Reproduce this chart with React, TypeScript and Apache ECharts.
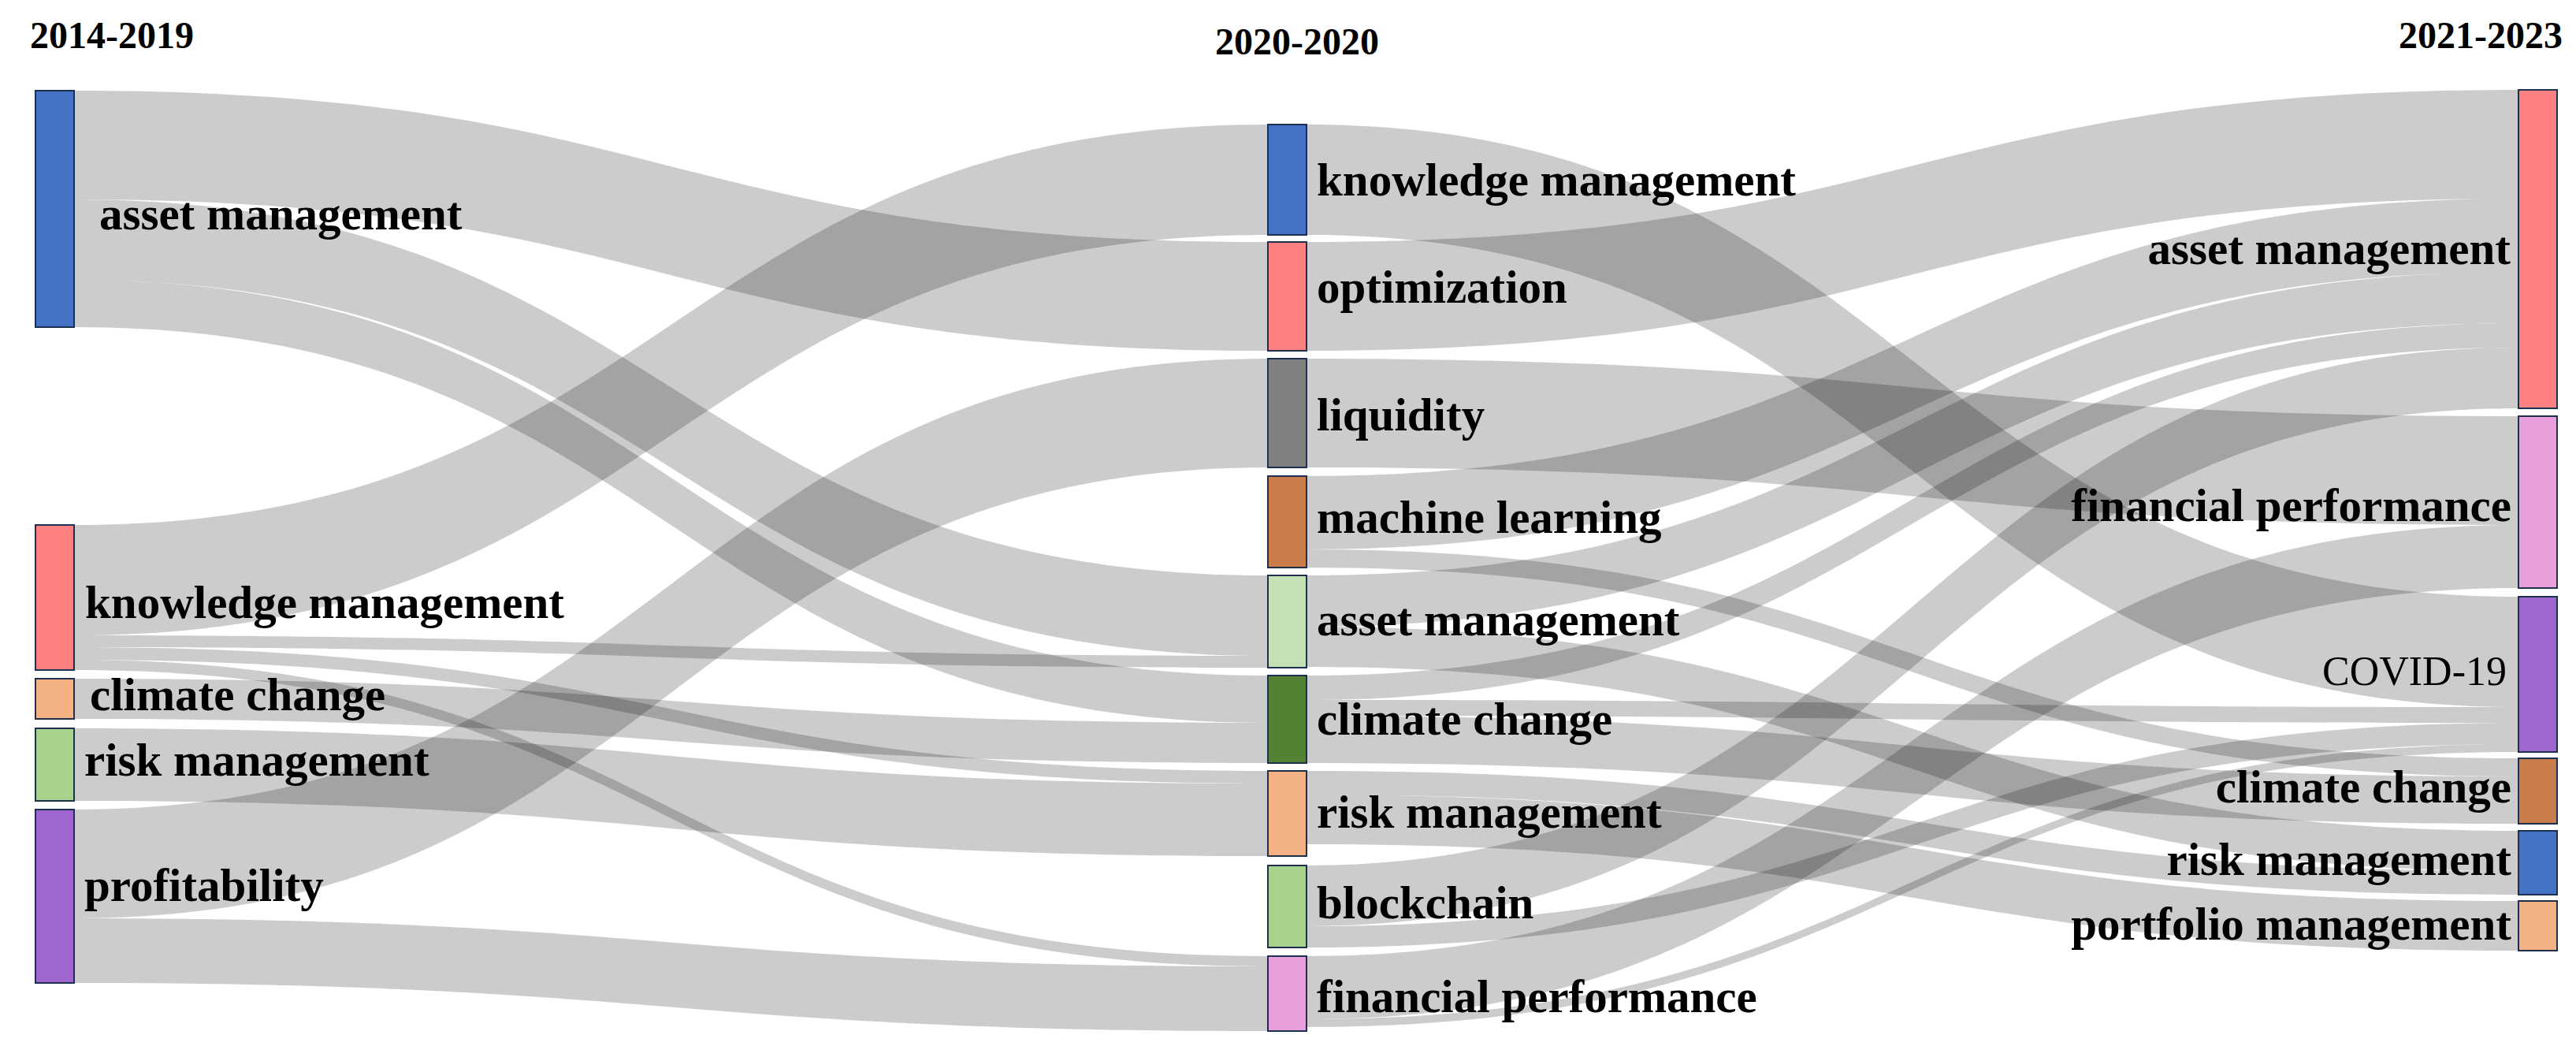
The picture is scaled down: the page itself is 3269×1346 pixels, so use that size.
import React, { useEffect, useRef } from "react";
import * as echarts from "echarts";

// ---------- data ----------
const periods = ["2014-2019", "2020-2020", "2021-2023"];

const themes2014 = ["asset management", "knowledge management", "climate change", "risk management", "profitability"];
const themes2020 = [
  "knowledge management", "optimization", "liquidity", "machine learning", "asset management",
  "climate change", "risk management", "blockchain", "financial performance",
];
const themes2021 = ["asset management", "financial performance", "COVID-19", "climate change", "risk management", "portfolio management"];

// [theme in earlier period, theme in later period, weight]
const flows2014to2020: [string, string, number][] = [
  ["asset management", "optimization", 138],
  ["asset management", "asset management", 102],
  ["asset management", "climate change", 60],
  ["knowledge management", "knowledge management", 140],
  ["knowledge management", "asset management", 15],
  ["knowledge management", "risk management", 16],
  ["knowledge management", "financial performance", 13],
  ["climate change", "climate change", 51],
  ["risk management", "risk management", 92],
  ["profitability", "liquidity", 138],
  ["profitability", "financial performance", 82],
];

const flows2020to2021: [string, string, number][] = [
  ["knowledge management", "COVID-19", 140],
  ["optimization", "asset management", 138],
  ["liquidity", "financial performance", 138],
  ["machine learning", "asset management", 93],
  ["machine learning", "climate change", 23],
  ["asset management", "asset management", 65],
  ["asset management", "risk management", 51],
  ["climate change", "asset management", 31],
  ["climate change", "COVID-19", 20],
  ["climate change", "climate change", 60],
  ["risk management", "risk management", 30],
  ["risk management", "portfolio management", 63],
  ["blockchain", "asset management", 77],
  ["blockchain", "COVID-19", 27],
  ["financial performance", "financial performance", 80],
  ["financial performance", "COVID-19", 10],
];

// ---------- styles / layout ----------
const colors2014 = ["#4472C4", "#FF8080", "#F4B183", "#A9D18E", "#A066CF"];
const colors2020 = ["#4472C4", "#FF8080", "#808080", "#C97D4B", "#C5E0B4", "#548235", "#F4B183", "#A9D18E", "#E89FDB"];
const colors2021 = ["#FF8080", "#E89FDB", "#A066CF", "#C97D4B", "#4472C4", "#F4B183"];

const AREA = { left: 45, top: 110, width: 3200, height: 1200 };
const NODE_W = 49;
const colX = [45, 1609, 3196];
const nodeTops = [
  [115, 666, 861, 924, 1027],
  [158, 307, 455, 604, 730, 857, 978, 1098, 1213],
  [114, 528, 757, 962, 1054, 1143],
];
const labelDist = [
  [31, 13, 19, 12, 12],
  [12, 12, 12, 12, 12, 12, 12, 12, 12],
  [9, 8, 14, 8, 8, 8],
];
const labelDy = [
  [6, 6, -6, -6, -14],
  [0, -12, 2, -6, -3, -1, -2, -5, 3],
  [-1, 4, -4, -6, -5, -3],
];

const FONT = "Liberation Serif";

export default function App() {
  const ref = useRef<HTMLDivElement>(null);

  useEffect(() => {
    if (!ref.current) return;
    const chart = echarts.init(ref.current, null, { renderer: "svg" });

    const columns = [themes2014, themes2020, themes2021];
    const colors = [colors2014, colors2020, colors2021];
    const key = (c: number, n: string) => `${c}|${n}`;

    const nodes = columns.flatMap((names, c) =>
      names.map((n, i) => ({
        name: key(c, n),
        depth: c,
        localX: (colX[c] - AREA.left) / AREA.width,
        localY: (nodeTops[c][i] - AREA.top) / AREA.height,
        itemStyle: { color: colors[c][i] },
        label: {
          position: c === 2 ? "left" : "right",
          distance: labelDist[c][i],
          offset: [0, labelDy[c][i]],
          ...(n === "COVID-19" ? { fontWeight: "normal", fontSize: 52 } : {}),
        },
      }))
    );

    const links = [
      ...flows2014to2020.map(([s, t, v]) => ({ source: key(0, s), target: key(1, t), value: v })),
      ...flows2020to2021.map(([s, t, v]) => ({ source: key(1, s), target: key(2, t), value: v })),
    ];

    // middle column decides the vertical scale: make one unit of weight one pixel
    const sum = (a: number[]) => a.reduce((x, y) => x + y, 0);
    const midSum = sum(
      themes2020.map((n) =>
        Math.max(
          sum(flows2014to2020.filter((f) => f[1] === n).map((f) => f[2])),
          sum(flows2020to2021.filter((f) => f[0] === n).map((f) => f[2]))
        )
      )
    );
    const nodeGap = (AREA.height - midSum) / (themes2020.length - 1);

    chart.setOption({
      animation: false,
      backgroundColor: "#ffffff",
      graphic: [
        {
          type: "text", x: 38, y: 44,
          style: { text: periods[0], fontFamily: FONT, fontWeight: "bold", fontSize: 48, fill: "#000", align: "left", verticalAlign: "middle" },
        },
        {
          type: "text", x: 1646, y: 52,
          style: { text: periods[1], fontFamily: FONT, fontWeight: "bold", fontSize: 48, fill: "#000", align: "center", verticalAlign: "middle" },
        },
        {
          type: "text", x: 3252, y: 44,
          style: { text: periods[2], fontFamily: FONT, fontWeight: "bold", fontSize: 48, fill: "#000", align: "right", verticalAlign: "middle" },
        },
      ],
      series: [
        {
          type: "sankey",
          left: AREA.left,
          top: AREA.top,
          width: AREA.width,
          height: AREA.height,
          nodeWidth: NODE_W,
          nodeGap,
          nodeAlign: "left",
          layoutIterations: 0,
          draggable: false,
          emphasis: { disabled: true },
          data: nodes,
          links,
          itemStyle: { borderColor: "#1F2F50", borderWidth: 2 },
          lineStyle: { color: "#000000", opacity: 0.2, curveness: 0.5 },
          label: {
            show: true,
            color: "#000",
            fontFamily: FONT,
            fontWeight: "bold",
            fontSize: 59,
            formatter: (p: any) => String(p.name).split("|")[1],
          },
        },
      ],
    });

    return () => chart.dispose();
  }, []);

  return (
    <div
      ref={ref}
      style={{ position: "absolute", left: 0, top: 0, width: 3269, height: 1346, background: "#fff" }}
    />
  );
}
